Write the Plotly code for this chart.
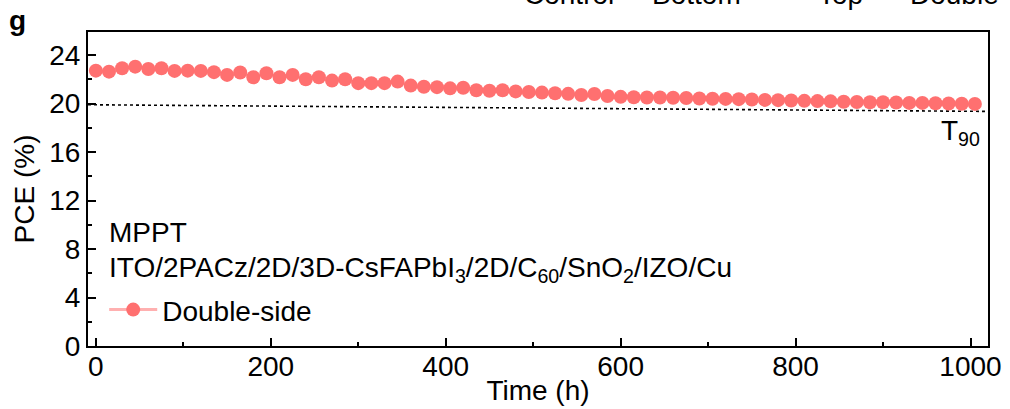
import plotly.graph_objects as go

time_h = [0, 15, 30, 45, 60, 75, 90, 105, 120, 135, 150, 165, 180, 195, 210, 225,
          240, 255, 270, 285, 300, 315, 330, 345, 360, 375, 390, 405, 420, 435, 450,
          465, 480, 495, 510, 525, 540, 555, 570, 585, 600, 615, 630, 645, 660, 675,
          690, 705, 720, 735, 750, 765, 780, 795, 810, 825, 840, 855, 870, 885, 900,
          915, 930, 945, 960, 975, 990, 1005]
pce = [22.71, 22.63, 22.91, 23.04, 22.85, 22.91, 22.69, 22.71, 22.69, 22.59, 22.36,
       22.56, 22.17, 22.50, 22.17, 22.36, 22.00, 22.17, 21.89, 22.00, 21.68, 21.68,
       21.68, 21.81, 21.48, 21.39, 21.35, 21.25, 21.30, 21.10, 21.05, 21.10, 21.00,
       20.95, 20.90, 20.85, 20.80, 20.70, 20.78, 20.62, 20.55, 20.52, 20.50, 20.50,
       20.48, 20.45, 20.42, 20.40, 20.38, 20.36, 20.33, 20.30, 20.28, 20.25, 20.22,
       20.20, 20.18, 20.15, 20.12, 20.10, 20.10, 20.08, 20.05, 20.05, 20.02, 20.00,
       19.98, 19.97]

t90_x = [-9, 1020]
t90_y = [19.9, 19.35]

x_ticks = [0, 200, 400, 600, 800, 1000]
y_ticks = [0, 4, 8, 12, 16, 20, 24]
top_labels = ["Control", "Bottom", "Top", "Double"]
top_label_px = [569, 696, 840, 954]

FONT = "Liberation Sans, Arial, sans-serif"
FS = 28
RED = "rgb(255,112,112)"

fig = go.Figure()
fig.add_trace(go.Scatter(x=t90_x, y=t90_y, mode="lines",
                         line=dict(color="black", width=1.6, dash="dot"),
                         showlegend=False, hoverinfo="skip"))
fig.add_trace(go.Scatter(x=time_h, y=pce, mode="lines+markers", name="Double-side",
                         line=dict(color="rgba(255,112,112,0.55)", width=3),
                         marker=dict(color=RED, size=14, line=dict(width=0))))

axis_common = dict(showline=True, linecolor="black", linewidth=2, mirror=True,
                   ticks="inside", ticklen=8, tickwidth=1.5, tickcolor="black",
                   showgrid=False, zeroline=False, automargin=False,
                   tickfont=dict(family=FONT, size=FS, color="black"))

fig.update_xaxes(range=[-9, 1020], tickvals=x_ticks, ticklabelstandoff=-6,
                 minor=dict(ticks="inside", ticklen=4, tickwidth=1.5, tickcolor="black", dtick=100, tick0=0),
                 title=dict(text="Time (h)", font=dict(family=FONT, size=FS, color="black"), standoff=0),
                 **axis_common)
fig.update_yaxes(range=[0, 25.9], tickvals=y_ticks,
                 minor=dict(ticks="inside", ticklen=4, tickwidth=1.5, tickcolor="black", dtick=2, tick0=0),
                 title=dict(text="PCE (%)", font=dict(family=FONT, size=FS, color="black"), standoff=6),
                 **axis_common)

annotations = [
    dict(x=13, y=9.4, xref="x", yref="y", text="MPPT", showarrow=False,
         xanchor="left", yanchor="middle", font=dict(family=FONT, size=FS, color="black")),
    dict(x=13, y=6.3, xref="x", yref="y",
         text="ITO/2PACz/2D/3D-CsFAPbI<sub>3</sub>/2D/C<sub>60</sub>/SnO<sub>2</sub>/IZO/Cu",
         showarrow=False, xanchor="left", yanchor="middle",
         font=dict(family=FONT, size=FS, color="black")),
    dict(x=1013, y=17.6, xref="x", yref="y", text="T<sub>90</sub>", showarrow=False,
         xanchor="right", yanchor="middle", font=dict(family=FONT, size=FS, color="black")),
    dict(x=(17 - 88) / 900, y=(346 - 20) / 314, xref="paper", yref="paper", text="<b>g</b>",
         showarrow=False, xanchor="center", yanchor="middle",
         font=dict(family=FONT, size=28, color="black")),
]
for lab, px in zip(top_labels, top_label_px):
    annotations.append(dict(x=(px - 88) / 900, y=(346 - 12) / 314, xref="paper", yref="paper",
                            text=lab, showarrow=False, xanchor="center", yanchor="bottom",
                            font=dict(family=FONT, size=FS, color="black")))

fig.update_layout(
    width=1010, height=409,
    margin=dict(l=88, r=22, t=32, b=63, autoexpand=False),
    paper_bgcolor="white", plot_bgcolor="white",
    font=dict(family=FONT, size=FS, color="black"),
    showlegend=True,
    legend=dict(x=0.018, y=0.115, xanchor="left", yanchor="middle",
                bgcolor="rgba(0,0,0,0)", font=dict(family=FONT, size=FS, color="black"),
                itemwidth=48),
    annotations=annotations,
)

fig.write_html("out.html")
